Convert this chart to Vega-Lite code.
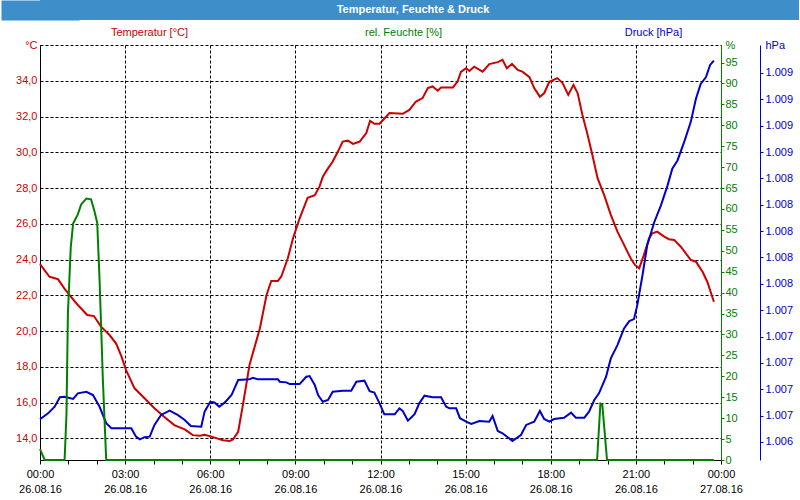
{
  "$schema": "https://vega.github.io/schema/vega-lite/v6.json",
  "background": "white",
  "padding": {"left": 1, "top": 0, "right": 1, "bottom": 1},
  "spacing": 6,
  "config": {"font": "Liberation Sans", "view": {"stroke": null}},
  "datasets": {
    "temp": [
      {"t":"2016-08-26T00:00","v":23.75},{"t":"2016-08-26T00:20","v":23.04},{"t":"2016-08-26T00:38","v":22.9},{"t":"2016-08-26T00:51","v":22.4},{"t":"2016-08-26T01:03","v":22.0},{"t":"2016-08-26T01:20","v":21.46},{"t":"2016-08-26T01:40","v":20.9},{"t":"2016-08-26T01:54","v":20.84},{"t":"2016-08-26T02:09","v":20.25},{"t":"2016-08-26T02:27","v":19.78},{"t":"2016-08-26T02:41","v":19.3},{"t":"2016-08-26T02:52","v":18.6},{"t":"2016-08-26T03:02","v":17.82},{"t":"2016-08-26T03:20","v":16.8},{"t":"2016-08-26T03:41","v":16.24},{"t":"2016-08-26T04:02","v":15.68},{"t":"2016-08-26T04:23","v":15.2},{"t":"2016-08-26T04:44","v":14.74},{"t":"2016-08-26T05:06","v":14.5},{"t":"2016-08-26T05:23","v":14.18},{"t":"2016-08-26T05:38","v":14.15},{"t":"2016-08-26T05:48","v":14.2},{"t":"2016-08-26T06:06","v":14.07},{"t":"2016-08-26T06:27","v":13.9},{"t":"2016-08-26T06:41","v":13.85},{"t":"2016-08-26T06:48","v":13.94},{"t":"2016-08-26T06:59","v":14.37},{"t":"2016-08-26T07:09","v":15.86},{"t":"2016-08-26T07:23","v":18.1},{"t":"2016-08-26T07:45","v":20.16},{"t":"2016-08-26T07:59","v":22.02},{"t":"2016-08-26T08:09","v":22.8},{"t":"2016-08-26T08:23","v":22.8},{"t":"2016-08-26T08:30","v":23.04},{"t":"2016-08-26T08:44","v":24.07},{"t":"2016-08-26T08:55","v":25.19},{"t":"2016-08-26T09:09","v":26.3},{"t":"2016-08-26T09:26","v":27.46},{"t":"2016-08-26T09:41","v":27.6},{"t":"2016-08-26T09:51","v":28.08},{"t":"2016-08-26T09:58","v":28.64},{"t":"2016-08-26T10:09","v":29.1},{"t":"2016-08-26T10:19","v":29.48},{"t":"2016-08-26T10:30","v":30.04},{"t":"2016-08-26T10:40","v":30.6},{"t":"2016-08-26T10:51","v":30.65},{"t":"2016-08-26T11:02","v":30.47},{"t":"2016-08-26T11:16","v":30.6},{"t":"2016-08-26T11:30","v":31.07},{"t":"2016-08-26T11:38","v":31.76},{"t":"2016-08-26T11:47","v":31.59},{"t":"2016-08-26T11:58","v":31.6},{"t":"2016-08-26T12:19","v":32.19},{"t":"2016-08-26T12:47","v":32.15},{"t":"2016-08-26T13:01","v":32.37},{"t":"2016-08-26T13:15","v":32.84},{"t":"2016-08-26T13:29","v":33.03},{"t":"2016-08-26T13:40","v":33.59},{"t":"2016-08-26T13:50","v":33.68},{"t":"2016-08-26T14:01","v":33.44},{"t":"2016-08-26T14:08","v":33.62},{"t":"2016-08-26T14:33","v":33.62},{"t":"2016-08-26T14:43","v":33.96},{"t":"2016-08-26T14:50","v":34.5},{"t":"2016-08-26T15:01","v":34.7},{"t":"2016-08-26T15:08","v":34.55},{"t":"2016-08-26T15:18","v":34.79},{"t":"2016-08-26T15:36","v":34.51},{"t":"2016-08-26T15:50","v":34.93},{"t":"2016-08-26T16:08","v":35.04},{"t":"2016-08-26T16:18","v":35.17},{"t":"2016-08-26T16:27","v":34.7},{"t":"2016-08-26T16:38","v":34.94},{"t":"2016-08-26T16:50","v":34.61},{"t":"2016-08-26T17:00","v":34.51},{"t":"2016-08-26T17:15","v":34.2},{"t":"2016-08-26T17:25","v":33.59},{"t":"2016-08-26T17:37","v":33.11},{"t":"2016-08-26T17:46","v":33.3},{"t":"2016-08-26T17:57","v":33.94},{"t":"2016-08-26T18:14","v":34.15},{"t":"2016-08-26T18:25","v":33.87},{"t":"2016-08-26T18:37","v":33.21},{"t":"2016-08-26T18:48","v":33.77},{"t":"2016-08-26T18:57","v":33.3},{"t":"2016-08-26T19:07","v":32.09},{"t":"2016-08-26T19:18","v":30.97},{"t":"2016-08-26T19:28","v":29.85},{"t":"2016-08-26T19:39","v":28.55},{"t":"2016-08-26T19:53","v":27.6},{"t":"2016-08-26T20:07","v":26.5},{"t":"2016-08-26T20:21","v":25.56},{"t":"2016-08-26T20:35","v":24.82},{"t":"2016-08-26T20:49","v":24.07},{"t":"2016-08-26T20:58","v":23.7},{"t":"2016-08-26T21:07","v":23.51},{"t":"2016-08-26T21:17","v":24.26},{"t":"2016-08-26T21:28","v":25.19},{"t":"2016-08-26T21:35","v":25.47},{"t":"2016-08-26T21:45","v":25.56},{"t":"2016-08-26T22:00","v":25.28},{"t":"2016-08-26T22:10","v":25.14},{"t":"2016-08-26T22:21","v":25.1},{"t":"2016-08-26T22:35","v":24.72},{"t":"2016-08-26T22:56","v":23.98},{"t":"2016-08-26T23:07","v":23.88},{"t":"2016-08-26T23:21","v":23.32},{"t":"2016-08-26T23:31","v":22.76},{"t":"2016-08-26T23:38","v":22.2},{"t":"2016-08-26T23:45","v":21.64}
    ],
    "press": [
      {"t":"2016-08-26T00:00","v":1006.572},{"t":"2016-08-26T00:17","v":1006.617},{"t":"2016-08-26T00:31","v":1006.667},{"t":"2016-08-26T00:42","v":1006.739},{"t":"2016-08-26T00:52","v":1006.743},{"t":"2016-08-26T01:10","v":1006.726},{"t":"2016-08-26T01:20","v":1006.769},{"t":"2016-08-26T01:38","v":1006.781},{"t":"2016-08-26T01:52","v":1006.756},{"t":"2016-08-26T02:06","v":1006.667},{"t":"2016-08-26T02:20","v":1006.542},{"t":"2016-08-26T02:31","v":1006.504},{"t":"2016-08-26T03:13","v":1006.504},{"t":"2016-08-26T03:23","v":1006.44},{"t":"2016-08-26T03:31","v":1006.42},{"t":"2016-08-26T03:41","v":1006.436},{"t":"2016-08-26T03:52","v":1006.44},{"t":"2016-08-26T04:02","v":1006.529},{"t":"2016-08-26T04:16","v":1006.605},{"t":"2016-08-26T04:34","v":1006.637},{"t":"2016-08-26T04:51","v":1006.605},{"t":"2016-08-26T05:06","v":1006.567},{"t":"2016-08-26T05:19","v":1006.521},{"t":"2016-08-26T05:41","v":1006.516},{"t":"2016-08-26T05:48","v":1006.63},{"t":"2016-08-26T06:00","v":1006.705},{"t":"2016-08-26T06:09","v":1006.7},{"t":"2016-08-26T06:19","v":1006.667},{"t":"2016-08-26T06:31","v":1006.7},{"t":"2016-08-26T06:45","v":1006.756},{"t":"2016-08-26T06:59","v":1006.87},{"t":"2016-08-26T07:23","v":1006.875},{"t":"2016-08-26T07:30","v":1006.887},{"t":"2016-08-26T07:41","v":1006.875},{"t":"2016-08-26T08:23","v":1006.875},{"t":"2016-08-26T08:27","v":1006.857},{"t":"2016-08-26T08:41","v":1006.852},{"t":"2016-08-26T08:48","v":1006.839},{"t":"2016-08-26T09:09","v":1006.839},{"t":"2016-08-26T09:23","v":1006.895},{"t":"2016-08-26T09:30","v":1006.9},{"t":"2016-08-26T09:41","v":1006.832},{"t":"2016-08-26T09:48","v":1006.756},{"t":"2016-08-26T09:58","v":1006.705},{"t":"2016-08-26T10:09","v":1006.718},{"t":"2016-08-26T10:19","v":1006.781},{"t":"2016-08-26T10:40","v":1006.789},{"t":"2016-08-26T10:58","v":1006.789},{"t":"2016-08-26T11:09","v":1006.857},{"t":"2016-08-26T11:26","v":1006.865},{"t":"2016-08-26T11:37","v":1006.785},{"t":"2016-08-26T11:47","v":1006.774},{"t":"2016-08-26T11:58","v":1006.693},{"t":"2016-08-26T12:08","v":1006.61},{"t":"2016-08-26T12:30","v":1006.61},{"t":"2016-08-26T12:40","v":1006.655},{"t":"2016-08-26T12:47","v":1006.635},{"t":"2016-08-26T12:58","v":1006.561},{"t":"2016-08-26T13:12","v":1006.61},{"t":"2016-08-26T13:22","v":1006.693},{"t":"2016-08-26T13:33","v":1006.751},{"t":"2016-08-26T13:50","v":1006.739},{"t":"2016-08-26T14:08","v":1006.739},{"t":"2016-08-26T14:19","v":1006.667},{"t":"2016-08-26T14:26","v":1006.655},{"t":"2016-08-26T14:40","v":1006.655},{"t":"2016-08-26T14:48","v":1006.58},{"t":"2016-08-26T15:01","v":1006.554},{"t":"2016-08-26T15:12","v":1006.536},{"t":"2016-08-26T15:29","v":1006.559},{"t":"2016-08-26T15:50","v":1006.554},{"t":"2016-08-26T15:57","v":1006.597},{"t":"2016-08-26T16:08","v":1006.483},{"t":"2016-08-26T16:18","v":1006.466},{"t":"2016-08-26T16:39","v":1006.408},{"t":"2016-08-26T16:57","v":1006.453},{"t":"2016-08-26T17:08","v":1006.529},{"t":"2016-08-26T17:25","v":1006.554},{"t":"2016-08-26T17:37","v":1006.635},{"t":"2016-08-26T17:46","v":1006.574},{"t":"2016-08-26T17:57","v":1006.554},{"t":"2016-08-26T18:07","v":1006.574},{"t":"2016-08-26T18:28","v":1006.584},{"t":"2016-08-26T18:43","v":1006.622},{"t":"2016-08-26T18:53","v":1006.584},{"t":"2016-08-26T19:11","v":1006.584},{"t":"2016-08-26T19:21","v":1006.63},{"t":"2016-08-26T19:32","v":1006.718},{"t":"2016-08-26T19:42","v":1006.769},{"t":"2016-08-26T19:57","v":1006.895},{"t":"2016-08-26T20:07","v":1007.034},{"t":"2016-08-26T20:21","v":1007.135},{"t":"2016-08-26T20:35","v":1007.261},{"t":"2016-08-26T20:46","v":1007.317},{"t":"2016-08-26T20:56","v":1007.332},{"t":"2016-08-26T21:03","v":1007.438},{"t":"2016-08-26T21:14","v":1007.665},{"t":"2016-08-26T21:24","v":1007.892},{"t":"2016-08-26T21:39","v":1008.069},{"t":"2016-08-26T21:53","v":1008.195},{"t":"2016-08-26T22:07","v":1008.347},{"t":"2016-08-26T22:17","v":1008.473},{"t":"2016-08-26T22:28","v":1008.536},{"t":"2016-08-26T22:42","v":1008.675},{"t":"2016-08-26T22:56","v":1008.827},{"t":"2016-08-26T23:07","v":1009.004},{"t":"2016-08-26T23:17","v":1009.117},{"t":"2016-08-26T23:28","v":1009.167},{"t":"2016-08-26T23:37","v":1009.261},{"t":"2016-08-26T23:45","v":1009.294}
    ],
    "hum": [
      {"t":"2016-08-26T00:00","v":2.6},{"t":"2016-08-26T00:10","v":0},{"t":"2016-08-26T00:52","v":0},{"t":"2016-08-26T00:56","v":11},{"t":"2016-08-26T00:59","v":35},{"t":"2016-08-26T01:05","v":50.8},{"t":"2016-08-26T01:10","v":56.5},{"t":"2016-08-26T01:20","v":58.7},{"t":"2016-08-26T01:27","v":61.1},{"t":"2016-08-26T01:38","v":62.5},{"t":"2016-08-26T01:48","v":62.3},{"t":"2016-08-26T01:55","v":59.5},{"t":"2016-08-26T02:01","v":56.7},{"t":"2016-08-26T02:06","v":42.9},{"t":"2016-08-26T02:13","v":19},{"t":"2016-08-26T02:20","v":0},{"t":"2016-08-26T19:38","v":0},{"t":"2016-08-26T19:45","v":13.5},{"t":"2016-08-26T19:49","v":13.3},{"t":"2016-08-26T19:59","v":0},{"t":"2016-08-26T23:45","v":0}
    ]
  },
  "vconcat": [
    {
      "width": 759,
      "height": 20,
      "view": {"fill": "#3d8ec9", "stroke": null},
      "data": {"values": [{"title": "Temperatur, Feuchte & Druck"}]},
      "mark": {"type": "text", "color": "white", "fontWeight": "bold", "fontSize": 11, "font": "Liberation Sans", "dx": -6.5},
      "encoding": {
        "text": {"field": "title", "type": "nominal"},
        "y": {
          "field": "title",
          "type": "nominal",
          "axis": {
            "orient": "left",
            "title": null,
            "labels": false,
            "ticks": false,
            "domain": true,
            "domainColor": "#3d8ec9",
            "domainWidth": 78,
            "offset": 0,
            "minExtent": 39,
            "maxExtent": 39
          }
        }
      }
    },
    {
      "width": 681,
      "height": 415,
      "encoding": {
        "x": {
          "field": "t",
          "type": "temporal",
          "scale": {"domain": [{"year": 2016, "month": 8, "date": 26, "hours": 0}, {"year": 2016, "month": 8, "date": 27, "hours": 0}]},
          "axis": {
            "title": null,
            "values": [
              {"year":2016,"month":8,"date":26,"hours":0},{"year":2016,"month":8,"date":26,"hours":1},{"year":2016,"month":8,"date":26,"hours":2},{"year":2016,"month":8,"date":26,"hours":3},{"year":2016,"month":8,"date":26,"hours":4},{"year":2016,"month":8,"date":26,"hours":5},{"year":2016,"month":8,"date":26,"hours":6},{"year":2016,"month":8,"date":26,"hours":7},{"year":2016,"month":8,"date":26,"hours":8},{"year":2016,"month":8,"date":26,"hours":9},{"year":2016,"month":8,"date":26,"hours":10},{"year":2016,"month":8,"date":26,"hours":11},{"year":2016,"month":8,"date":26,"hours":12},{"year":2016,"month":8,"date":26,"hours":13},{"year":2016,"month":8,"date":26,"hours":14},{"year":2016,"month":8,"date":26,"hours":15},{"year":2016,"month":8,"date":26,"hours":16},{"year":2016,"month":8,"date":26,"hours":17},{"year":2016,"month":8,"date":26,"hours":18},{"year":2016,"month":8,"date":26,"hours":19},{"year":2016,"month":8,"date":26,"hours":20},{"year":2016,"month":8,"date":26,"hours":21},{"year":2016,"month":8,"date":26,"hours":22},{"year":2016,"month":8,"date":26,"hours":23},{"year":2016,"month":8,"date":27,"hours":0}
            ],
            "labelExpr": "hours(datum.value) % 3 == 0 ? [timeFormat(datum.value, '%H:%M'), timeFormat(datum.value, '%d.%m.%y')] : ''",
            "labelOverlap": false,
            "labelFlush": false,
            "labelBound": false,
            "labelColor": "black",
            "labelFontSize": 11,
            "labelLineHeight": 15,
            "labelPadding": 4,
            "tickSize": 4,
            "tickColor": "black",
            "domainColor": "black",
            "grid": true,
            "gridColor": "black",
            "gridDash": [3, 2],
            "gridOpacity": {"condition": {"test": "hours(datum.value) % 3 == 0", "value": 1}, "value": 0}
          }
        }
      },
      "layer": [
        {
          "data": {"name": "temp"},
          "mark": {"type": "line", "color": "#cc0000", "strokeWidth": 2},
          "encoding": {
            "y": {
              "field": "v",
              "type": "quantitative",
              "scale": {"domain": [12.79, 36], "nice": false, "zero": false},
              "axis": {
                "orient": "left",
                "values": [14, 16, 18, 20, 22, 24, 26, 28, 30, 32, 34, 36],
                "labelExpr": "datum.value > 35 ? '°C' : replace(format(datum.value, '.1f'), '.', ',')",
                "labelColor": "#cc0000",
                "labelFontSize": 11,
                "labelPadding": 3,
                "ticks": false,
                "tickSize": 0,
                "domainColor": "black",
                "grid": true,
                "gridColor": "black",
                "gridDash": [3, 2],
                "title": "Temperatur [°C]",
                "titleColor": "#cc0000",
                "titleFontWeight": "normal",
                "titleFontSize": 11,
                "titleAngle": 0,
                "titleX": 109,
                "titleY": -13,
                "titleAlign": "center",
                "titleBaseline": "middle",
                "minExtent": 39,
                "maxExtent": 39
              }
            }
          }
        },
        {
          "data": {"name": "press"},
          "mark": {"type": "line", "color": "#0000cc", "strokeWidth": 2},
          "encoding": {
            "y": {
              "field": "v",
              "type": "quantitative",
              "scale": {"domain": [1006.263, 1009.412], "nice": false, "zero": false},
              "axis": {
                "orient": "right",
                "offset": 39,
                "values": [1006.4, 1006.6, 1006.8, 1007, 1007.2, 1007.4, 1007.6, 1007.8, 1008, 1008.2, 1008.4, 1008.6, 1008.8, 1009, 1009.2, 1009.412],
                "labelExpr": "datum.value > 1009.3 ? 'hPa' : format(round(datum.value) / 1000, '.3f')",
                "labelColor": "#0000cc",
                "labelFontSize": 11,
                "labelPadding": 2,
                "tickSize": 3,
                "tickColor": "#0000cc",
                "tickOpacity": {"condition": {"test": "datum.value > 1009.3", "value": 0}, "value": 1},
                "domainColor": "#0000cc",
                "grid": false,
                "title": "Druck [hPa]",
                "titleColor": "#0000cc",
                "titleFontWeight": "normal",
                "titleFontSize": 11,
                "titleAngle": 0,
                "titleX": -107,
                "titleY": -13,
                "titleAlign": "center",
                "titleBaseline": "middle"
              }
            }
          }
        },
        {
          "data": {"name": "hum"},
          "mark": {"type": "line", "color": "#008000", "strokeWidth": 2},
          "encoding": {
            "y": {
              "field": "v",
              "type": "quantitative",
              "scale": {"domain": [0, 99.2], "nice": false, "zero": false},
              "axis": {
                "orient": "right",
                "offset": 0,
                "values": [0, 5, 10, 15, 20, 25, 30, 35, 40, 45, 50, 55, 60, 65, 70, 75, 80, 85, 90, 95, 99.2],
                "labelExpr": "datum.value > 97 ? '%' : format(datum.value, 'd')",
                "labelColor": "#008000",
                "labelFontSize": 11,
                "labelPadding": 1,
                "tickSize": 3,
                "tickColor": "#008000",
                "tickOpacity": {"condition": {"test": "datum.value > 97", "value": 0}, "value": 1},
                "domainColor": "#008000",
                "grid": false,
                "title": "rel. Feuchte [%]",
                "titleColor": "#008000",
                "titleFontWeight": "normal",
                "titleFontSize": 11,
                "titleAngle": 0,
                "titleX": -318,
                "titleY": -13,
                "titleAlign": "center",
                "titleBaseline": "middle"
              }
            }
          }
        }
      ],
      "resolve": {"scale": {"y": "independent"}, "axis": {"y": "independent"}}
    }
  ]
}
